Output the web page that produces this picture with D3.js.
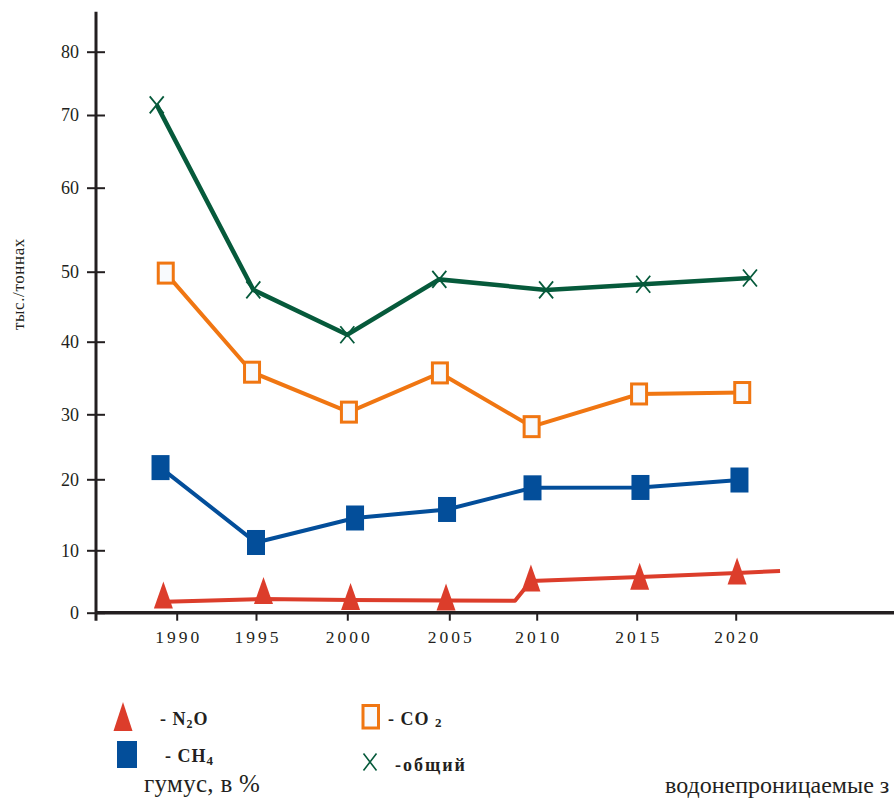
<!DOCTYPE html>
<html><head><meta charset="utf-8">
<script src="https://cdn.jsdelivr.net/npm/d3@7"></script>
<style>
html,body{margin:0;padding:0;background:#fff;}
svg text{font-family:"Liberation Serif","Times New Roman","DejaVu Serif",serif !important;}
</style></head>
<body><svg id="c" width="894" height="798"></svg>
<script>
// ---- data ----
const xTickYears = [1990, 1995, 2000, 2005, 2010, 2015, 2020];
const yTickValues = [0, 10, 20, 30, 40, 50, 60, 70, 80];

const totalYears  = [1988.74, 1994.83, 2000.0, 2004.51, 2010.47, 2015.33, 2020.72];
const totalValues = [71.6, 47.4, 41.0, 48.9, 47.4, 48.2, 49.1];

const co2Years  = [1989.31, 1994.75, 2000.08, 2004.54, 2009.71, 2015.12, 2020.33];
const co2Values = [49.8, 35.8, 30.3, 35.7, 28.1, 32.8, 33.0];

const ch4Years  = [1988.98, 1995.0, 2000.38, 2004.89, 2009.76, 2015.19, 2020.19];
const ch4Values = [21.8, 11.1, 14.55, 15.75, 18.8, 18.85, 19.9];

const n2oYears  = [1989.16, 1995.41, 2000.16, 2004.84, 2009.67, 2015.15, 2020.07];
const n2oValues = [2.85, 3.56, 2.6, 2.52, 5.58, 5.83, 6.68];
const n2oLineYears  = [1989.3, 1995.38, 2000.13, 2004.84, 2008.76, 2009.67, 2015.17, 2020.07, 2022.24];
const n2oLineValues = [1.76, 2.2, 2.04, 1.96, 1.92, 5.08, 5.72, 6.36, 6.68];

// ---- layout ----
const svg = d3.select("#c");
const ink = "#231f20";
const cGreen = "#065a3b", cOrange = "#f07612", cBlue = "#034e9a", cRed = "#dc3d2b";

// the printed axes are not evenly spaced: piecewise scales following the drawn ticks
const x = d3.scaleLinear().domain(xTickYears).range([176.7, 256, 347.3, 449.3, 536.7, 636.7, 735.7]);
const y = d3.scaleLinear().domain(yTickValues).range([612.7, 550.3, 479.3, 414.3, 341.7, 271.7, 187.7, 115, 51.7]);
const x0 = 96;

// axes
const gy = svg.append("g").attr("transform", `translate(${x0},0)`)
  .call(d3.axisLeft(y).tickValues(yTickValues).tickSize(9).tickPadding(8).tickFormat(d3.format("d")));
gy.attr("font-family", null).attr("font-size", null);
gy.select(".domain").remove();
gy.selectAll(".tick line").attr("x1", -9).attr("x2", 9).attr("stroke", ink).attr("stroke-width", 2);
gy.selectAll(".tick text").attr("font-size", 18).attr("fill", ink);

const gx = svg.append("g").attr("transform", `translate(0,${y(0)})`)
  .call(d3.axisBottom(x).tickValues(xTickYears).tickSize(8).tickPadding(10).tickFormat(d3.format("d")));
gx.attr("font-family", null).attr("font-size", null);
gx.select(".domain").remove();
gx.selectAll(".tick line").attr("stroke", ink).attr("stroke-width", 2);
gx.selectAll(".tick text").attr("font-size", 17.5)
  .attr("fill", ink).attr("letter-spacing", 3).attr("dx", 1.5);

svg.append("line").attr("x1", x0).attr("x2", x0).attr("y1", y(80) - 40).attr("y2", y(0) + 8)
  .attr("stroke", ink).attr("stroke-width", 3);
svg.append("line").attr("x1", x0).attr("x2", 894).attr("y1", y(0)).attr("y2", y(0))
  .attr("stroke", ink).attr("stroke-width", 3.5);

// y label
svg.append("text").attr("transform", `translate(24,284) rotate(-90)`)
  .attr("text-anchor", "middle").attr("font-size", 17).attr("fill", ink).attr("letter-spacing", 0.6)
  .text("тыс./тоннах");

// lines
const line = d3.line().x(d => x(d[0])).y(d => y(d[1]));
const zip = (a, b) => a.map((v, i) => [v, b[i]]);

svg.append("path").datum(zip(n2oLineYears, n2oLineValues)).attr("d", line)
  .attr("fill", "none").attr("stroke", cRed).attr("stroke-width", 4).attr("stroke-linejoin", "round");
svg.append("path").datum(zip(ch4Years, ch4Values)).attr("d", line)
  .attr("fill", "none").attr("stroke", cBlue).attr("stroke-width", 4);
svg.append("path").datum(zip(co2Years, co2Values)).attr("d", line)
  .attr("fill", "none").attr("stroke", cOrange).attr("stroke-width", 4);
svg.append("path").datum(zip(totalYears, totalValues)).attr("d", line)
  .attr("fill", "none").attr("stroke", cGreen).attr("stroke-width", 4.5);

// markers
const tri = (w, h) => `M0,${-h/2}L${w/2},${h/2}L${-w/2},${h/2}Z`;
svg.append("g").selectAll("path").data(zip(n2oYears, n2oValues)).join("path")
  .attr("transform", d => `translate(${x(d[0])},${y(d[1])})`)
  .attr("d", tri(19, 27)).attr("fill", cRed);

svg.append("g").selectAll("rect").data(zip(ch4Years, ch4Values)).join("rect")
  .attr("x", d => x(d[0]) - 9).attr("y", d => y(d[1]) - 12.5)
  .attr("width", 18).attr("height", 25).attr("fill", cBlue);

svg.append("g").selectAll("rect").data(zip(co2Years, co2Values)).join("rect")
  .attr("x", d => x(d[0]) - 7.5).attr("y", d => y(d[1]) - 10)
  .attr("width", 15).attr("height", 20).attr("fill", "#f8fafd")
  .attr("stroke", cOrange).attr("stroke-width", 3);

const cross = "M-7,-8.5L7,8.5M-7,8.5L7,-8.5";
svg.append("g").selectAll("path").data(zip(totalYears, totalValues)).join("path")
  .attr("transform", d => `translate(${x(d[0])},${y(d[1])})`)
  .attr("d", cross).attr("stroke", cGreen).attr("stroke-width", 1.8).attr("fill", "none");

// legend
const lg = svg.append("g").attr("fill", ink).attr("font-weight", "bold").attr("font-size", 18);
lg.append("path").attr("transform", "translate(123,716.5)").attr("d", tri(19, 29)).attr("fill", cRed);
const t1 = lg.append("text").attr("x", 160).attr("y", 725).attr("letter-spacing", 1);
t1.append("tspan").text("- N");
t1.append("tspan").attr("font-size", 12).attr("dy", 3).text("2");
t1.append("tspan").attr("dy", -3).text("O");

lg.append("rect").attr("x", 117).attr("y", 741).attr("width", 20).attr("height", 27).attr("fill", cBlue);
const t2 = lg.append("text").attr("x", 165).attr("y", 762).attr("letter-spacing", 1);
t2.append("tspan").text("- CH");
t2.append("tspan").attr("font-size", 13).attr("dy", 3).text("4");

lg.append("rect").attr("x", 363).attr("y", 705.5).attr("width", 15.5).attr("height", 22.5)
  .attr("fill", "#f8fafd").attr("stroke", cOrange).attr("stroke-width", 3);
const t3 = lg.append("text").attr("x", 388).attr("y", 725).attr("letter-spacing", 1);
t3.append("tspan").text("- CO ");
t3.append("tspan").attr("font-size", 13).attr("dy", 2).text("2");

lg.append("path").attr("transform", "translate(370,762)").attr("d", "M-6.5,-8.5L6.5,8.5M-6.5,8.5L6.5,-8.5")
  .attr("stroke", cGreen).attr("stroke-width", 1.6).attr("fill", "none");
lg.append("text").attr("x", 395).attr("y", 771).attr("letter-spacing", 2).text("-общий");

// stray caption text
svg.append("text").attr("x", 144).attr("y", 792).attr("font-size", 25).attr("fill", ink)
  .attr("letter-spacing", 0.3).text("гумус, в %");
svg.append("text").attr("x", 665).attr("y", 793).attr("font-size", 24).attr("fill", ink)
  .text("водонепроницаемые з");
</script></body></html>
